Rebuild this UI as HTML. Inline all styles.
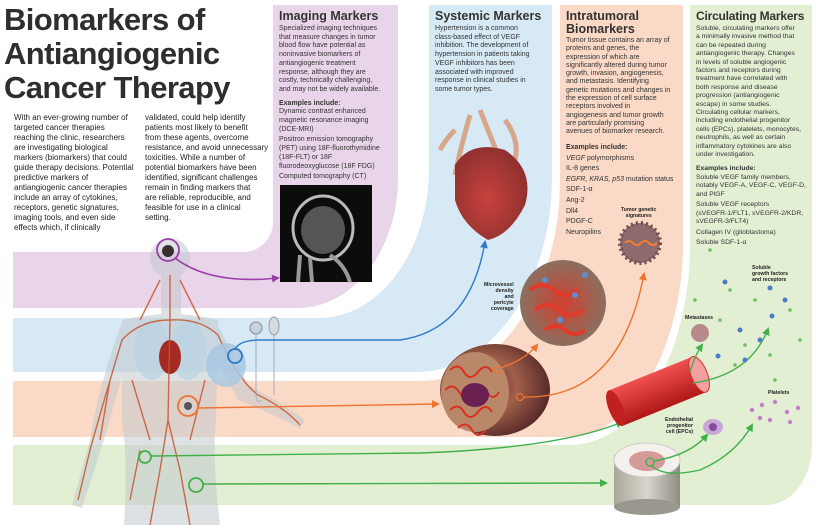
<!DOCTYPE html>
<html><head><meta charset="utf-8"><style>
*{margin:0;padding:0;box-sizing:border-box}
body{width:827px;height:525px;overflow:hidden;background:#fff;font-family:"Liberation Sans",sans-serif;color:#2b2b2b;position:relative}
.t{position:absolute;white-space:nowrap}
h1{position:absolute;left:4px;top:3px;font-size:31px;line-height:34px;font-weight:bold;color:#2e2e2e;letter-spacing:-0.6px}
.intro{font-size:8px;line-height:10px;color:#222}
.ph{font-size:12.5px;font-weight:bold;line-height:13px;color:#333}
.pb{font-size:7px;line-height:8.7px;color:#333}
.ex{font-weight:bold}
.lbl{position:absolute;font-size:5.2px;font-weight:bold;line-height:6px;white-space:nowrap;color:#222}
</style></head><body>
<svg width="827" height="525" style="position:absolute;left:0;top:0">
<defs>
<marker id="ap" markerWidth="8" markerHeight="8" refX="6" refY="4" orient="auto" markerUnits="userSpaceOnUse"><path d="M0,0 L8,4 L0,8 Z" fill="#9b3fa8"/></marker>
<marker id="ab" markerWidth="8" markerHeight="8" refX="6" refY="4" orient="auto" markerUnits="userSpaceOnUse"><path d="M0,0 L8,4 L0,8 Z" fill="#2f7ac8"/></marker>
<marker id="ao" markerWidth="8" markerHeight="8" refX="6" refY="4" orient="auto" markerUnits="userSpaceOnUse"><path d="M0,0 L8,4 L0,8 Z" fill="#ee7430"/></marker>
<marker id="ag" markerWidth="8" markerHeight="8" refX="6" refY="4" orient="auto" markerUnits="userSpaceOnUse"><path d="M0,0 L8,4 L0,8 Z" fill="#3fb04a"/></marker>
<radialGradient id="tum" cx="0.4" cy="0.45" r="0.6"><stop offset="0" stop-color="#6a2040"/><stop offset="0.5" stop-color="#a0604a"/><stop offset="1" stop-color="#5a2a2a"/></radialGradient>
<radialGradient id="mv" cx="0.5" cy="0.5" r="0.5"><stop offset="0" stop-color="#d04030"/><stop offset="1" stop-color="#8a7060"/></radialGradient>
<linearGradient id="ves" x1="0" y1="0" x2="0" y2="1"><stop offset="0" stop-color="#f05050"/><stop offset="1" stop-color="#b01818"/></linearGradient>
<linearGradient id="bone" x1="0" y1="0" x2="1" y2="0"><stop offset="0" stop-color="#a9a89c"/><stop offset="0.5" stop-color="#d8d6cc"/><stop offset="1" stop-color="#8f8d82"/></linearGradient>
<radialGradient id="heart" cx="0.45" cy="0.55" r="0.55"><stop offset="0" stop-color="#c8302a"/><stop offset="1" stop-color="#8a1e1a"/></radialGradient>
</defs>
<path d="M13,5 H812 V445 A45 60 0 0 1 767,505 H13 Z" fill="#e3efd3"/>
<path d="M0,0 H690 V245 A120 200 0 0 1 570,445 H0 Z" fill="#fff"/>
<path d="M13,5 H683 V242 A115 195 0 0 1 568,437 H13 Z" fill="#fad9c6"/>
<path d="M0,0 H560 V181 A140 200 0 0 1 420,381 H0 Z" fill="#fff"/>
<path d="M13,5 H552 V177 A135 195 0 0 1 417,372 H13 Z" fill="#d6e9f5"/>
<path d="M0,0 H429 V168 A110 150 0 0 1 319,318 H0 Z" fill="#fff"/>
<path d="M13,5 H398 V178 A100 130 0 0 1 298,308 H13 Z" fill="#e9d5e9"/>
<path d="M0,0 H273 V222 A30 30 0 0 1 243,252 H0 Z" fill="#fff"/>

<rect x="280" y="185" width="92" height="97" fill="#0c0c0c"/>
<ellipse cx="323" cy="228" rx="30" ry="32" fill="none" stroke="#bbb" stroke-width="3"/>
<ellipse cx="323" cy="230" rx="22" ry="24" fill="#555"/>
<path d="M300,255 L298,282 M310,258 L312,282 M330,255 Q345,265 350,282" stroke="#999" stroke-width="4" fill="none"/>

<g opacity="0.9">
<path d="M470,115 Q460,150 455,175 M480,110 Q490,135 500,160 M505,120 Q520,140 515,160 M455,130 Q445,140 440,150" stroke="#d8a080" stroke-width="5" fill="none"/>
<path d="M455,165 Q470,140 505,150 Q535,170 525,205 Q510,235 488,240 Q462,225 455,200 Z" fill="url(#heart)"/>
</g>

<g opacity="0.55" fill="#c3c9cf">
<circle cx="170" cy="258" r="20"/>
<rect x="161" y="275" width="20" height="40"/>
<path d="M122,320 Q170,308 218,320 L216,420 Q212,460 220,525 L124,525 Q128,460 122,420 Z"/>
<path d="M122,322 Q100,380 90,440 L72,505 L82,508 L104,440 Q118,390 130,350 Z"/>
<path d="M216,322 Q236,360 248,385 Q278,400 305,420 L300,428 Q268,412 238,400 L210,350 Z"/>
</g>
<ellipse cx="152" cy="350" rx="18" ry="30" fill="#b9d3e2" opacity="0.7"/>
<ellipse cx="188" cy="350" rx="18" ry="30" fill="#b9d3e2" opacity="0.7"/>
<ellipse cx="170" cy="357" rx="11" ry="17" fill="#a52a22"/>
<g stroke="#c8552e" stroke-width="1.4" fill="none" opacity="0.85">
<path d="M170,275 L170,320 L168,420 L160,470 L150,525 M168,420 L180,470 L190,525"/>
<path d="M170,320 Q140,320 122,340 Q104,400 90,450 L78,500"/>
<path d="M170,320 Q200,318 218,335 Q238,380 258,395 Q285,408 300,425"/>
<path d="M160,280 Q150,300 140,320 M180,280 Q190,300 200,320 M132,380 L150,440 M205,380 L190,440 M110,380 L100,440 M140,450 L130,500"/>
</g>
<ellipse cx="226" cy="365" rx="20" ry="22" fill="#a9c7e0" opacity="0.85"/>
<g stroke="#aab" fill="none"><path d="M256,335 V395 Q256,405 262,400 M274,335 V395"/></g>
<circle cx="256" cy="328" r="6" fill="#c8d2da" stroke="#889"/>
<ellipse cx="274" cy="326" rx="5" ry="9" fill="#d4dce2" stroke="#99a"/>
<circle cx="168" cy="251" r="6" fill="#3a3030"/>

<circle cx="168" cy="250" r="11" fill="none" stroke="#9b3fa8" stroke-width="1.8"/>
<path d="M175,258 Q210,285 278,278" fill="none" stroke="#9b3fa8" stroke-width="1.6" marker-end="url(#ap)"/>
<circle cx="235" cy="356" r="7" fill="none" stroke="#2f7ac8" stroke-width="1.8"/>
<path d="M235,349 Q240,340 260,340 L400,340 Q470,330 485,242" fill="none" stroke="#2f7ac8" stroke-width="1.4" marker-end="url(#ab)"/>
<circle cx="188" cy="406" r="10" fill="none" stroke="#ee7430" stroke-width="1.8"/>
<circle cx="188" cy="406" r="4" fill="#555"/>
<path d="M198,408 L438,404" fill="none" stroke="#ee7430" stroke-width="1.4" marker-end="url(#ao)"/>
<circle cx="145" cy="457" r="6" fill="none" stroke="#3fb04a" stroke-width="1.8"/>
<path d="M151,456 L420,453 Q560,448 622,422" fill="none" stroke="#3fb04a" stroke-width="1.4" marker-end="url(#ag)"/>
<circle cx="196" cy="485" r="7" fill="none" stroke="#3fb04a" stroke-width="1.8"/>
<path d="M203,484 L606,483" fill="none" stroke="#3fb04a" stroke-width="1.4" marker-end="url(#ag)"/>

<ellipse cx="495" cy="390" rx="55" ry="46" fill="url(#tum)"/>
<ellipse cx="475" cy="392" rx="34" ry="40" fill="#b88868"/>
<g stroke="#d83020" stroke-width="2" fill="none"><path d="M450,370 q8,-8 14,2 t14,0 t14,0 M445,390 q8,-8 14,2 t14,0 t14,0 t12,0 M450,410 q8,-8 14,2 t14,0 t14,0 M458,428 q8,-8 14,2 t14,0"/></g>
<ellipse cx="475" cy="395" rx="14" ry="12" fill="#6a2050"/>
<circle cx="498" cy="370" r="3.5" fill="none" stroke="#ee7430" stroke-width="1.2"/>
<circle cx="520" cy="397" r="3.5" fill="none" stroke="#ee7430" stroke-width="1.2"/>
<path d="M500,368 Q525,360 537,345" fill="none" stroke="#ee7430" stroke-width="1.4" marker-end="url(#ao)"/>
<path d="M523,397 Q620,400 644,274" fill="none" stroke="#ee7430" stroke-width="1.4" marker-end="url(#ao)"/>
<circle cx="563" cy="303" r="43" fill="url(#mv)"/>
<g stroke="#e23a2a" stroke-width="4" fill="none"><path d="M530,290 q12,-10 24,0 t24,0 M535,310 q12,-10 24,0 t24,0 M545,330 q10,-8 20,0 t20,0"/></g>
<g fill="#5a8fd0"><circle cx="545" cy="280" r="3"/><circle cx="575" cy="295" r="3"/><circle cx="560" cy="320" r="3"/><circle cx="585" cy="275" r="3"/></g>
<circle cx="640" cy="243" r="20" fill="#8e6a6c" stroke="#6e4e50" stroke-width="4" stroke-dasharray="2 3"/>
<path d="M625,243 q4,-4 8,0 t8,0 t8,0 t8,0" stroke="#f08030" stroke-width="2" fill="none"/>
<g transform="rotate(-22 658 390)">
<rect x="612" y="372" width="90" height="38" fill="url(#ves)"/>
<ellipse cx="612" cy="391" rx="7" ry="19" fill="#c02020"/>
<ellipse cx="702" cy="391" rx="8" ry="19" fill="#f4a0a0" stroke="#d03030"/>
</g>
<circle cx="700" cy="333" r="9" fill="#b88a8c"/>
<path d="M690,372 Q695,355 702,345" fill="none" stroke="#3fb04a" stroke-width="1.4" marker-end="url(#ag)"/>
<path d="M693,383 Q750,375 768,329" fill="none" stroke="#3fb04a" stroke-width="1.4" marker-end="url(#ag)"/>
<g fill="#6bc060"><circle cx="695" cy="300" r="1.8"/><circle cx="730" cy="290" r="1.8"/><circle cx="720" cy="320" r="1.8"/><circle cx="755" cy="300" r="1.8"/><circle cx="790" cy="310" r="1.8"/><circle cx="745" cy="345" r="1.8"/><circle cx="770" cy="355" r="1.8"/><circle cx="800" cy="340" r="1.8"/><circle cx="710" cy="250" r="1.8"/><circle cx="775" cy="380" r="1.8"/><circle cx="735" cy="365" r="1.8"/></g>
<g fill="#4b7cc8"><circle cx="725" cy="282" r="2.5"/><circle cx="770" cy="288" r="2.5"/><circle cx="785" cy="300" r="2.5"/><circle cx="740" cy="330" r="2.5"/><circle cx="760" cy="340" r="2.5"/><circle cx="718" cy="356" r="2.5"/><circle cx="745" cy="360" r="2.5"/><circle cx="772" cy="316" r="2.5"/></g>
<g fill="#c080c8"><circle cx="752" cy="410" r="2.2"/><circle cx="762" cy="405" r="2.2"/><circle cx="775" cy="402" r="2.2"/><circle cx="787" cy="412" r="2.2"/><circle cx="760" cy="418" r="2.2"/><circle cx="798" cy="408" r="2.2"/><circle cx="770" cy="420" r="2.2"/><circle cx="790" cy="422" r="2.2"/></g>
<ellipse cx="713" cy="427" rx="10" ry="8" fill="#c8a8d8"/><circle cx="713" cy="427" r="4" fill="#8a4a9a"/>
<rect x="614" y="455" width="66" height="52" fill="url(#bone)"/>
<ellipse cx="647" cy="507" rx="33" ry="8" fill="#9a988e"/>
<ellipse cx="647" cy="460" rx="33" ry="17" fill="#f4f0ec" stroke="#ccc"/>
<ellipse cx="647" cy="461" rx="18" ry="10" fill="#d49a98"/>
<circle cx="650" cy="462" r="4" fill="none" stroke="#3fb04a" stroke-width="1.3"/>
<path d="M654,461 Q690,455 707,435" fill="none" stroke="#3fb04a" stroke-width="1.4" marker-end="url(#ag)"/>
<path d="M652,466 Q665,478 700,470 Q735,455 752,425" fill="none" stroke="#3fb04a" stroke-width="1.4" marker-end="url(#ag)"/>
</svg>

<h1>Biomarkers of<br>Antiangiogenic<br>Cancer Therapy</h1>
<div class="t intro" style="left:14px;top:113px">With an ever-growing number of<br>targeted cancer therapies<br>reaching the clinic, researchers<br>are investigating biological<br>markers (biomarkers) that could<br>guide therapy decisions. Potential<br>predictive markers of<br>antiangiogenic cancer therapies<br>include an array of cytokines,<br>receptors, genetic signatures,<br>imaging tools, and even side<br>effects which, if clinically</div>
<div class="t intro" style="left:145px;top:113px">validated, could help identify<br>patients most likely to benefit<br>from these agents, overcome<br>resistance, and avoid unnecessary<br>toxicities. While a number of<br>potential biomarkers have been<br>identified, significant challenges<br>remain in finding markers that<br>are reliable, reproducible, and<br>feasible for use in a clinical<br>setting.</div>

<div class="t ph" style="left:279px;top:10px">Imaging Markers</div>
<div class="t pb" style="left:279px;top:25px">Specialized imaging techniques<br>that measure changes in tumor<br>blood flow have potential as<br>noninvasive biomarkers of<br>antiangiogenic treatment<br>response, although they are<br>costly, technically challenging,<br>and may not be widely available.<br><div style="height:5px"></div><span class="ex">Examples include:</span><br>Dynamic contrast enhanced<br>magnetic resonance imaging<br>(DCE-MRI)<div style="height:2px"></div>Positron emission tomography<br>(PET) using 18F-fluorothymidine<br>(18F-FLT) or 18F<br>fluorodeoxyglucose (18F FDG)<div style="height:2px"></div>Computed tomography (CT)</div>

<div class="t ph" style="left:435px;top:10px">Systemic Markers</div>
<div class="t pb" style="left:435px;top:25px">Hypertension is a common<br>class-based effect of VEGF<br>inhibition. The development of<br>hypertension in patients taking<br>VEGF inhibitors has been<br>associated with improved<br>response in clinical studies in<br>some tumor types.</div>

<div class="t ph" style="left:566px;top:10px">Intratumoral<br>Biomarkers</div>
<div class="t pb" style="left:566px;top:37px;line-height:8.3px">Tumor tissue contains an array of<br>proteins and genes, the<br>expression of which are<br>significantly altered during tumor<br>growth, invasion, angiogenesis,<br>and metastasis. Identifying<br>genetic mutations and changes in<br>the expression of cell surface<br>receptors involved in<br>angiogenesis and tumor growth<br>are particularly promising<br>avenues of biomarker research.</div>
<div class="t pb" style="left:566px;top:143px;line-height:10.6px"><span class="ex">Examples include:</span><br><i>VEGF</i> polymorphisms<br>IL-8 genes<br><i>EGFR, KRAS, p53</i> mutation status<br>SDF-1-α<br>Ang-2<br>Dll4<br>PDGF-C<br>Neuropilins</div>

<div class="t ph" style="left:696px;top:10px;font-size:12px;letter-spacing:-0.2px">Circulating Markers</div>
<div class="t pb" style="left:696px;top:25px;line-height:8.4px;font-size:6.8px">Soluble, circulating markers offer<br>a minimally invasive method that<br>can be repeated during<br>antiangiogenic therapy. Changes<br>in levels of soluble angiogenic<br>factors and receptors during<br>treatment have correlated with<br>both response and disease<br>progression (antiangiogenic<br>escape) in some studies.<br>Circulating cellular markers,<br>including endothelial progenitor<br>cells (EPCs), platelets, monocytes,<br>neutrophils, as well as certain<br>inflammatory cytokines are also<br>under investigation.</div>
<div class="t pb" style="left:696px;top:165px;line-height:8.5px;font-size:6.8px"><span class="ex">Examples include:</span><br>Soluble VEGF family members,<br>notably VEGF-A, VEGF-C, VEGF-D,<br>and PlGF<div style="height:2px"></div>Soluble VEGF receptors<br>(sVEGFR-1/FLT1, sVEGFR-2/KDR,<br>sVEGFR-3/FLT4)<div style="height:2px"></div>Collagen IV (glioblastoma)<div style="height:2px"></div>Soluble SDF-1-α</div>

<div class="lbl" style="left:621px;top:207px;text-align:center">Tumor genetic<br>signatures</div>
<div class="lbl" style="left:484px;top:282px;text-align:right">Microvessel<br>density<br>and<br>pericyte<br>coverage</div>
<div class="lbl" style="left:685px;top:315px">Metastases</div>
<div class="lbl" style="left:752px;top:265px">Soluble<br>growth factors<br>and receptors</div>
<div class="lbl" style="left:768px;top:390px">Platelets</div>
<div class="lbl" style="left:665px;top:417px;text-align:right">Endothelial<br>progenitor<br>cell (EPCs)</div>
</body></html>
